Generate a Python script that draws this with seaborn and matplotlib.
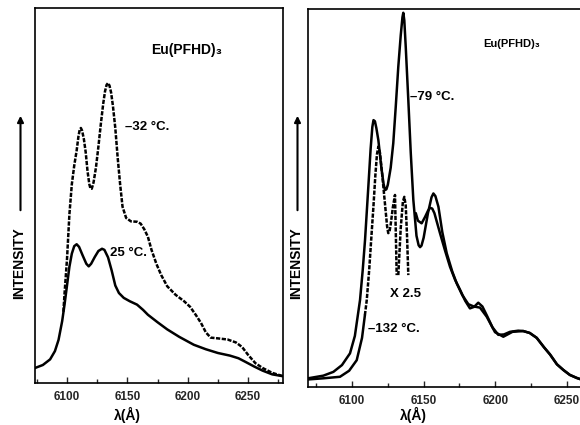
import numpy as np
import pandas as pd
import matplotlib
matplotlib.use("Agg")
import matplotlib.pyplot as plt
import seaborn as sns
from matplotlib.ticker import MultipleLocator

# ---- data (wavelength in Angstrom, intensity in % of frame height)
# left panel, 25 C (solid)
wl_25 = [6073.5, 6080, 6086, 6090, 6093, 6096, 6098, 6100, 6102, 6104, 6106, 6108, 6110, 6113,
         6116, 6118, 6120, 6123, 6126, 6129, 6131, 6134, 6137, 6140, 6143, 6147, 6152, 6158,
         6163, 6167, 6175, 6183, 6193, 6205, 6215, 6225, 6235, 6242, 6248, 6255, 6262, 6270, 6279]
int_25 = [4.0, 4.8, 6.3, 8.5, 11.5, 16.5, 21, 26, 31, 34.5, 36.5, 37.0, 36.3, 34.0,
          31.8, 31.1, 31.8, 33.6, 35.2, 35.8, 35.5, 33.5, 30, 26, 24, 22.7, 21.8, 20.9,
          19.5, 18.2, 16.2, 14.3, 12.3, 10.2, 9.0, 8.0, 7.3, 6.6, 5.6, 4.4, 3.3, 2.3, 1.8]

# left panel, -32 C (dashed)
wl_m32 = [6097, 6098, 6100, 6102, 6104, 6106, 6108, 6109.5, 6110.5, 6111.5, 6112.5, 6114, 6115.5,
          6117, 6118.5, 6119.5, 6120.5, 6122, 6124, 6126, 6128, 6130, 6131.5, 6132.8, 6134,
          6135.2, 6136.5, 6138, 6140, 6142, 6144, 6146, 6149, 6153, 6158, 6161, 6164, 6167,
          6170, 6174, 6178, 6183, 6190, 6197, 6202, 6207, 6211, 6215, 6219, 6225, 6233, 6240,
          6245, 6250, 6256, 6262, 6270, 6279]
int_m32 = [19, 24, 33, 45, 53, 58, 62, 65.8, 67.5, 68, 67.3, 65, 61.5,
           56.5, 53, 51.8, 51.8, 53.5, 57.5, 63, 69, 74.5, 77.8, 79.5, 80,
           79.3, 77.5, 74, 68, 60, 53, 47, 44, 43.1, 43, 42.5, 41, 39,
           35.5, 31.8, 28.8, 25.8, 23.5, 21.8, 20.3, 18, 16, 13.5, 12.1, 11.9, 11.6, 10.8,
           9.6, 7.5, 5.3, 4.0, 2.7, 1.8]

# right panel, -79 C (solid)
wl_m79 = [6069.3, 6080, 6087, 6093, 6098.6, 6102, 6105.6, 6107.5, 6109.1, 6111.4, 6113, 6114.2,
          6115, 6116, 6117, 6118.4, 6120.5, 6122, 6123, 6124, 6125, 6127, 6128.8, 6130.5, 6132.3,
          6134, 6135.2, 6135.8, 6136.5, 6137.5, 6139.3, 6141, 6142.8, 6145, 6146.5, 6147.5,
          6148.5, 6150, 6153, 6155.5, 6156.8, 6158.2, 6160.3, 6163, 6166.1, 6170, 6173.1, 6177,
          6181.2, 6185, 6189.3, 6194, 6199.8, 6205.6, 6212, 6219.5, 6224, 6228.9, 6234, 6238.2,
          6243, 6247.5, 6252, 6256.8, 6259.1]
int_m79 = [2.3, 3.0, 4.0, 5.8, 8.9, 13.5, 23, 31, 38.9, 53, 63, 68.8,
           70.6, 70.3, 68.5, 65.3, 58, 53.8, 52.1, 52.3, 53.5, 58, 64.5, 74, 84.7,
           93, 97.8, 99, 97, 90, 75.9, 62, 49.5, 40, 37.5, 37,
           37.4, 39.5, 46, 50.2, 51.2, 50.5, 47.7, 41, 35.4, 30.5, 27.4, 24.3,
           21.9, 21.3, 21.0, 18.6, 14.5, 13.3, 14.6, 14.8, 14.3, 13.0, 10.5, 8.6,
           6.0, 4.5, 3.2, 2.4, 2.1]

# right panel, -132 C: foot (solid), main peak (dashed), x2.5 peak (dashed), tail (solid)
wl_m132_foot = [6069.3, 6080, 6091.6, 6098, 6103.3, 6107, 6109]
int_m132_foot = [2.0, 2.3, 2.7, 4.3, 7.1, 13, 19]
wl_m132_main = [6109, 6110.3, 6112, 6113.7, 6115, 6116.3, 6117.4, 6118.4, 6119.5, 6121, 6123,
                6124.5, 6125.3, 6126.2, 6127, 6128.5, 6130.0, 6131.2]
int_m132_main = [19, 23, 31, 40.7, 48, 56, 61.5, 63.6, 62, 56.5, 48.5,
                 42.5, 40.7, 41.2, 43, 47.5, 50.8, 29.6]
wl_m132_x25 = [6132.3, 6134.0, 6135.5, 6136.5, 6137.5, 6138.4, 6139.3]
int_m132_x25 = [29.6, 42, 49, 50.3, 48, 40, 29.6]
wl_m132_tail = [6144.5, 6146, 6148.6, 6151, 6153, 6154.4, 6156, 6157.5, 6161.4, 6165, 6168.4,
                6172, 6175.4, 6179, 6182.3, 6185.2, 6188.1, 6191, 6194, 6198, 6202.1, 6206,
                6210.3, 6216, 6219.5, 6224, 6228.9, 6234, 6238.2, 6243, 6247.5, 6252, 6256.8,
                6259.1]
int_m132_tail = [46, 44, 43.3, 45, 46.6, 47.4, 47.2, 46, 40.7, 36, 31.8,
                 28.3, 25.7, 22.8, 20.8, 21.2, 22.3, 21.3, 19, 15.8, 13.8, 13.9,
                 14.6, 14.9, 14.8, 14.3, 13.0, 10.5, 8.6, 6.0, 4.5, 3.2, 2.4,
                 2.1]

tick_values = [6100, 6150, 6200, 6250]
tick_labels = ["6100", "6150", "6200", "6250"]

# ---- style
sns.set_style("white")
plt.rcParams["font.family"] = ["Liberation Sans", "DejaVu Sans"]
plt.rcParams["font.weight"] = "bold"

W, H = 580, 425
fig = plt.figure(figsize=(W / 100, H / 100), dpi=100)

def px(x, y):
    # pixel position in the picture -> figure fraction
    return x / W, 1 - y / H

ax1 = fig.add_axes([35 / W, 1 - 383 / H, 248 / W, 375 / H])
ax2 = fig.add_axes([308 / W, 1 - 387 / H, 1 - 308 / W, 378 / H])

lw = 1.8
dash = (0, (1.7, 0.6))

def draw(ax, x, y, ls="-"):
    sns.lineplot(x=x, y=y, ax=ax, color="black", lw=lw, linestyle=ls,
                 sort=False, estimator=None, legend=False)

draw(ax1, wl_25, int_25)
draw(ax1, wl_m32, int_m32, dash)

draw(ax2, wl_m79, int_m79)
draw(ax2, wl_m132_foot, int_m132_foot)
draw(ax2, wl_m132_main, int_m132_main, dash)
draw(ax2, wl_m132_x25, int_m132_x25, dash)
draw(ax2, wl_m132_tail, int_m132_tail)

ax1.set_xlim(6073.5, 6278.9)
ax2.set_xlim(6069.3, 6259.1)

for ax in (ax1, ax2):
    ax.set_ylim(0, 100)
    ax.set_xlabel("")
    ax.set_ylabel("")
    ax.set_yticks([])
    ax.xaxis.set_minor_locator(MultipleLocator(25))
    ax.set_xticks(tick_values)
    ax.set_xticklabels(tick_labels, fontsize=8.5, fontweight="bold")
    ax.tick_params(axis="x", which="both", direction="in", bottom=True, pad=6, width=1.0)
    ax.tick_params(axis="x", which="major", length=4)
    ax.tick_params(axis="x", which="minor", length=3)
    for s in ax.spines.values():
        s.set_linewidth(1.2)
        s.set_color("black")
ax2.spines["right"].set_visible(False)

# ---- annotations
txt = dict(fontweight="bold", color="black")
fig.text(*px(187, 50), "Eu(PFHD)\u2083", ha="center", va="center", fontsize=10, **txt)
fig.text(*px(125, 127), "\u201332 \u00b0C.", ha="left", va="center", fontsize=9.5, **txt)
fig.text(*px(110, 253), "25 \u00b0C.", ha="left", va="center", fontsize=9.5, **txt)
fig.text(*px(512, 44), "Eu(PFHD)\u2083", ha="center", va="center", fontsize=8, **txt)
fig.text(*px(410, 97), "\u201379 \u00b0C.", ha="left", va="center", fontsize=9.5, **txt)
fig.text(*px(405, 294), "X 2.5", ha="center", va="center", fontsize=9.5, **txt)
fig.text(*px(368, 329), "\u2013132 \u00b0C.", ha="left", va="center", fontsize=9.5, **txt)

for xc in (127, 413):
    fig.text(*px(xc, 415), "\u03bb(\u00c5)", ha="center", va="center", fontsize=10, **txt)

for xl in (19, 296):
    fig.text(*px(xl, 263), "INTENSITY", rotation=90, ha="center", va="center", fontsize=10, **txt)
    fig.add_artist(matplotlib.patches.FancyArrowPatch(
        px(xl + 1.5, 213), px(xl + 1.5, 113), transform=fig.transFigure,
        arrowstyle="-|>", mutation_scale=9, lw=1.5, color="black"))

fig.savefig("out.png", dpi=100, facecolor="white")
